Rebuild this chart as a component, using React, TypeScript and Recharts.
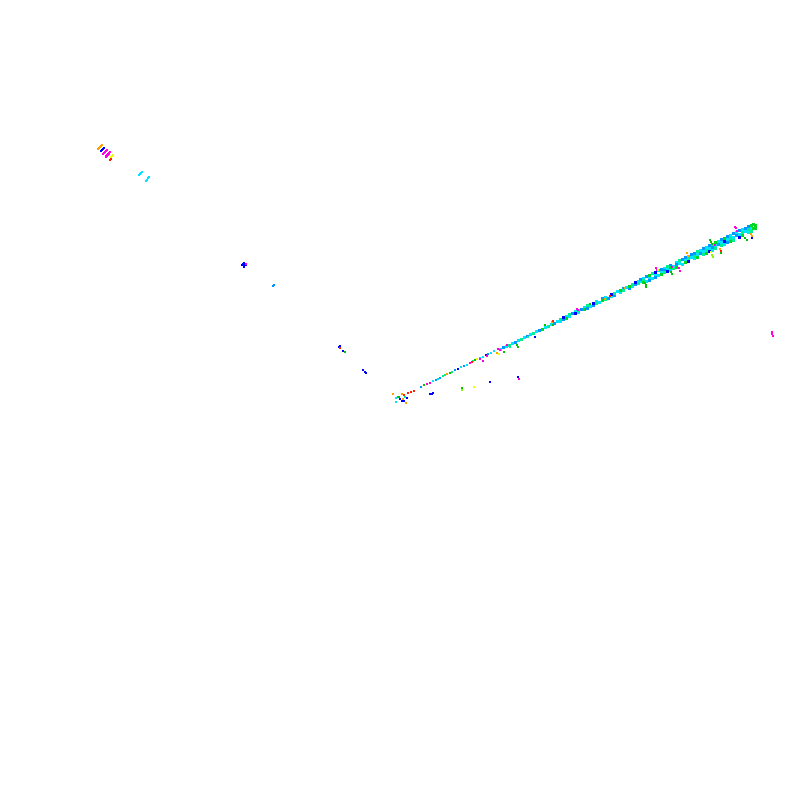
import { ScatterChart, Scatter, XAxis, YAxis } from 'recharts';

type Pair = [number, number];

// dense cells along the main streak
const cyanBand: Pair[] = [
  [500,349],[506,346],[512,343],[518,340],[524,337],[530,334],[536,331],[545,327],[551,324],[557,321],
  [560,321],[566,316],[569,316],[575,311],[578,312],[584,307],[590,306],[596,301],[599,302],[605,297],[611,296],[617,291],[620,292],[626,287],[632,286],[638,281],
  [640,281],[643,278],[646,281],[649,277],[652,278],[655,274],[658,275],[661,271],[664,268],[667,268],[670,270],[673,266],[676,262],[679,263],[682,264],[685,260],[688,256],[691,257],[694,258],[697,254],[700,250],[703,251],[706,247],[709,248],[712,250],[715,245],[718,241],[721,242],[724,244],[727,239],[730,235],[733,237],[736,232],[739,234],[742,229],[745,231],[748,232],[751,228],
];
const azureBand: Pair[] = [
  [503,347],[515,342],[527,336],[539,330],[554,323],
  [563,319],[572,313],[581,309],[587,308],[593,305],[602,298],[608,298],[614,295],[623,288],[629,288],[635,284],
  [640,279],[646,276],[649,280],[655,277],[661,269],[664,270],[670,265],[676,264],[682,259],[685,257],[691,254],[694,253],[700,253],[703,248],[709,245],[712,247],[718,244],[721,239],[727,236],[727,242],[733,233],[736,235],[739,230],[745,228],[748,226],
];
const springBand: Pair[] = [
  [509,345],[521,339],[533,333],[548,326],
  [560,319],[569,314],[578,310],[587,305],[596,303],[605,299],[614,293],[623,290],[632,284],[638,283],
  [643,280],[652,273],[658,270],[664,272],[667,266],[673,268],[679,260],[688,258],[694,256],[697,251],[703,254],[706,250],[712,244],[715,248],[721,245],[730,238],[733,240],[742,232],[748,229],[751,231],
];
const greenBand: Pair[] = [
  [542,329],[566,318],[584,309],[602,300],[620,290],[629,286],
  [643,282],[649,275],[661,274],[670,267],[676,267],[685,262],[697,257],[706,253],[715,242],[724,238],[730,241],[742,235],
  [751,225],[753,228],[755,225],[753,224],[755,228],
];
const blueBand: Pair[] = [
  [563,317],[575,313],[593,303],[611,294],[635,282],
  [655,272],[667,271],[688,261],[709,251],[724,241],[739,237],
];

// single small marks
const cyanFine: Pair[] = [
  [433,381],[438,379],[461,367],[467,365],[480,358],[483,357],[491,353],[494,351],
  [139,175],[140,174],[141,173],[142,172],[146,181],[147,180],[148,178],[149,177],[396,402],[396,398],
];
const azureFine: Pair[] = [[421,387],[436,380],[440,378],[455,370],[464,366],[488,354],[273,286],[274,285]];
const springFine: Pair[] = [[443,376],[445,375],[452,372],[473,361],[405,397],[510,347],[528,337]];
const greenFine: Pair[] = [
  [424,385],[450,373],[475,360],[398,397],[399,397],[462,389],[462,388],[345,352],[504,352],[517,345],[518,347],
  [553,325],[645,283],[646,285],[646,287],[671,272],[672,274],[710,240],[711,242],[712,244],[721,253],[745,238],[747,240],
  [545,325],[590,304],
];
const blueFine: Pair[] = [
  [458,369],[486,355],[400,399],[407,398],[402,401],[404,401],[430,394],[432,394],[433,393],[490,382],[518,377],
  [242,265],[244,265],[244,263],[246,265],[244,267],[243,264],[245,264],[339,347],[340,346],[343,351],[363,370],[365,372],[366,373],
  [101,151],[102,150],[103,149],[104,148],[535,337],[752,238],
];
const magentaFine: Pair[] = [
  [427,384],[430,383],[470,363],[480,359],[483,361],[487,356],[498,349],[500,350],[507,345],[519,379],
  [103,154],[104,153],[105,152],[106,151],[107,150],[106,156],[107,155],[108,154],[109,153],[110,152],[106,157],[107,156],[108,155],[109,154],
  [246,264],[577,309],[578,310],[656,268],[657,270],[672,267],[679,268],[680,271],[715,245],[735,227],[736,228],[737,231],[772,332],[772,334],[773,336],
];
const orangeFine: Pair[] = [
  [447,374],[393,394],[402,394],[403,399],[406,403],[497,353],[552,322],[605,299],[625,288],[687,253],[688,256],[720,249],[751,234],[752,236],
  [98,149],[99,148],[100,147],[101,146],[102,145],[112,156],
];
const redFine: Pair[] = [[404,395],[408,393],[411,392],[414,391],[472,362],[340,348],[553,321],[610,296],[721,251],[110,160],[111,159]];
const yellowFine: Pair[] = [[477,359],[474,387],[499,354],[658,270],[711,252],[111,157],[112,156],[113,155]];
const limeFine: Pair[] = [[712,255],[713,257],[462,390]];

const bandSeries: [Pair[], string][] = [
  [cyanBand, '#00e5ff'],
  [azureBand, '#0096ff'],
  [springBand, '#00f090'],
  [greenBand, '#00d820'],
  [blueBand, '#0000ff'],
];
const fineSeries: [Pair[], string][] = [
  [cyanFine, '#00e5ff'],
  [azureFine, '#0096ff'],
  [springFine, '#00f090'],
  [greenFine, '#00c800'],
  [blueFine, '#0000ff'],
  [magentaFine, '#ff00e0'],
  [orangeFine, '#ffa000'],
  [redFine, '#ff2000'],
  [yellowFine, '#f0ff00'],
  [limeFine, '#80ff00'],
];

const toPoints = (pairs: Pair[]) => pairs.map(([x, y]) => ({ x, y }));

const mark = (side: number, fill: string) => (props: any) => (
  <rect
    x={props.cx - side / 2}
    y={props.cy - side / 2}
    width={side}
    height={side}
    fill={fill}
    shapeRendering="crispEdges"
  />
);

export default function App() {
  return (
    <div style={{ position: 'absolute', left: 0, top: 0, width: 800, height: 800, background: '#fff' }}>
      <ScatterChart width={800} height={800} margin={{ top: 0, right: 0, bottom: 0, left: 0 }}>
        <XAxis type="number" dataKey="x" domain={[0, 800]} hide />
        <YAxis type="number" dataKey="y" domain={[0, 800]} reversed hide />
        {bandSeries.map(([pairs, color]) => (
          <Scatter key={color} data={toPoints(pairs)} shape={mark(3, color)} isAnimationActive={false} />
        ))}
        {fineSeries.map(([pairs, color]) => (
          <Scatter key={'f' + color} data={toPoints(pairs)} shape={mark(2, color)} isAnimationActive={false} />
        ))}
      </ScatterChart>
    </div>
  );
}
